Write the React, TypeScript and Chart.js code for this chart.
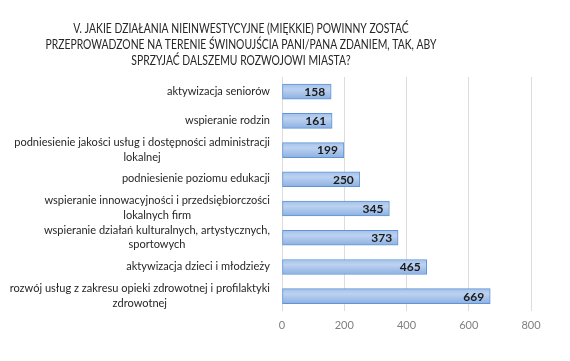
import React, { useEffect, useRef } from "react";
import { Chart, registerables } from "chart.js";

Chart.register(...registerables);

const titleLines = [
  "V. JAKIE DZIAŁANIA NIEINWESTYCYJNE (MIĘKKIE) POWINNY ZOSTAĆ",
  "PRZEPROWADZONE NA TERENIE ŚWINOUJŚCIA PANI/PANA ZDANIEM, TAK, ABY",
  "SPRZYJAĆ DALSZEMU ROZWOJOWI MIASTA?",
];

const categories: string[][] = [
  ["aktywizacja seniorów"],
  ["wspieranie rodzin"],
  ["podniesienie jakości usług i dostępności administracji", "lokalnej"],
  ["podniesienie poziomu edukacji"],
  ["wspieranie innowacyjności i przedsiębiorczości", "lokalnych firm"],
  ["wspieranie działań kulturalnych, artystycznych,", "sportowych"],
  ["aktywizacja dzieci i młodzieży"],
  ["rozwój usług z zakresu opieki zdrowotnej i profilaktyki", "zdrowotnej"],
];

const values = [158, 161, 199, 250, 345, 373, 465, 669];

const FONT = "Lato, 'Open Sans', sans-serif";

function condensedText(ctx: CanvasRenderingContext2D, text: string, cx: number, y: number, k: number) {
  ctx.save();
  ctx.translate(cx, y);
  ctx.scale(k, 1);
  ctx.fillText(text, 0, 0);
  ctx.restore();
}

export default function App() {
  const ref = useRef<HTMLCanvasElement | null>(null);

  useEffect(() => {
    const canvas = ref.current;
    if (!canvas) return;

    const titlePlugin = {
      id: "customTitle",
      afterDraw(chart: any) {
        const ctx = chart.ctx;
        ctx.save();
        ctx.font = `12.5px ${FONT}`;
        ctx.fillStyle = "#262626";
        ctx.textAlign = "center";
        ctx.textBaseline = "alphabetic";
        const cx = 241;
        titleLines.forEach((l, i) => {
          condensedText(ctx, l, cx, 33.3 + i * 15.9, 0.83);
        });
        ctx.restore();
      },
    };

    const labelsPlugin = {
      id: "catLabels",
      afterDraw(chart: any) {
        const ctx = chart.ctx;
        const yScale = chart.scales.y;
        const left = chart.chartArea.left;
        const k = 0.96;
        ctx.save();
        ctx.font = `11.5px ${FONT}`;
        ctx.fillStyle = "#262626";
        ctx.textAlign = "center";
        ctx.textBaseline = "middle";
        categories.forEach((lines, i) => {
          const y = yScale.getPixelForValue(i);
          const widths = lines.map((l) => ctx.measureText(l).width * k);
          const maxW = Math.max(...widths);
          const right = left - 12;
          const cx = right - maxW / 2;
          const lh = 14.5;
          const y0 = y - ((lines.length - 1) * lh) / 2 - 0.5;
          lines.forEach((l, j) => condensedText(ctx, l, cx, y0 + j * lh, k));
        });
        const meta = chart.getDatasetMeta(0);
        ctx.font = `bold 12px ${FONT}`;
        ctx.fillStyle = "#1a1a1a";
        ctx.textAlign = "right";
        meta.data.forEach((bar: any, i: number) => {
          ctx.fillText(String(values[i]), bar.x - 6, bar.y + 0.5);
        });
        ctx.restore();
      },
    };

    const chart = new Chart(canvas, {
      type: "bar",
      data: {
        labels: categories.map((c) => c.join(" ")),
        datasets: [
          {
            data: values,
            backgroundColor: (c: any) => {
              const ch = c.chart;
              const ys = ch.scales && ch.scales.y;
              if (!ys || !ch.chartArea) return "#a9c4ea";
              const yc = ys.getPixelForValue(c.dataIndex);
              if (!Number.isFinite(yc)) return "#a9c4ea";
              const g = ch.ctx.createLinearGradient(0, yc - 7.5, 0, yc + 7.5);
              g.addColorStop(0, "#a3c0ea");
              g.addColorStop(0.35, "#bcd2f0");
              g.addColorStop(1, "#8db0e2");
              return g;
            },
            borderColor: "#5e95d8",
            borderWidth: 1,
            borderSkipped: false,
            barThickness: 15,
          },
        ],
      },
      options: {
        indexAxis: "y",
        animation: false,
        responsive: false,
        maintainAspectRatio: false,
        layout: { padding: { left: 282, right: 39, top: 77, bottom: 21 } },
        plugins: {
          legend: { display: false },
          tooltip: { enabled: false },
          title: { display: false },
        },
        scales: {
          x: {
            min: 0,
            max: 800,
            ticks: {
              stepSize: 200,
              color: "#7f7f7f",
              font: { family: FONT, size: 11 },
              padding: 8,
            },
            grid: { color: "#dcdcdc", drawTicks: false },
            border: { display: false },
          },
          y: {
            display: false,
            offset: true,
          },
        },
      },
      plugins: [titlePlugin, labelsPlugin],
    });

    return () => chart.destroy();
  }, []);

  return (
    <div style={{ position: "fixed", left: 0, top: 0, width: 570, height: 361, background: "#fff" }}>
      <canvas ref={ref} width={570} height={361} style={{ width: 570, height: 361 }} />
    </div>
  );
}
